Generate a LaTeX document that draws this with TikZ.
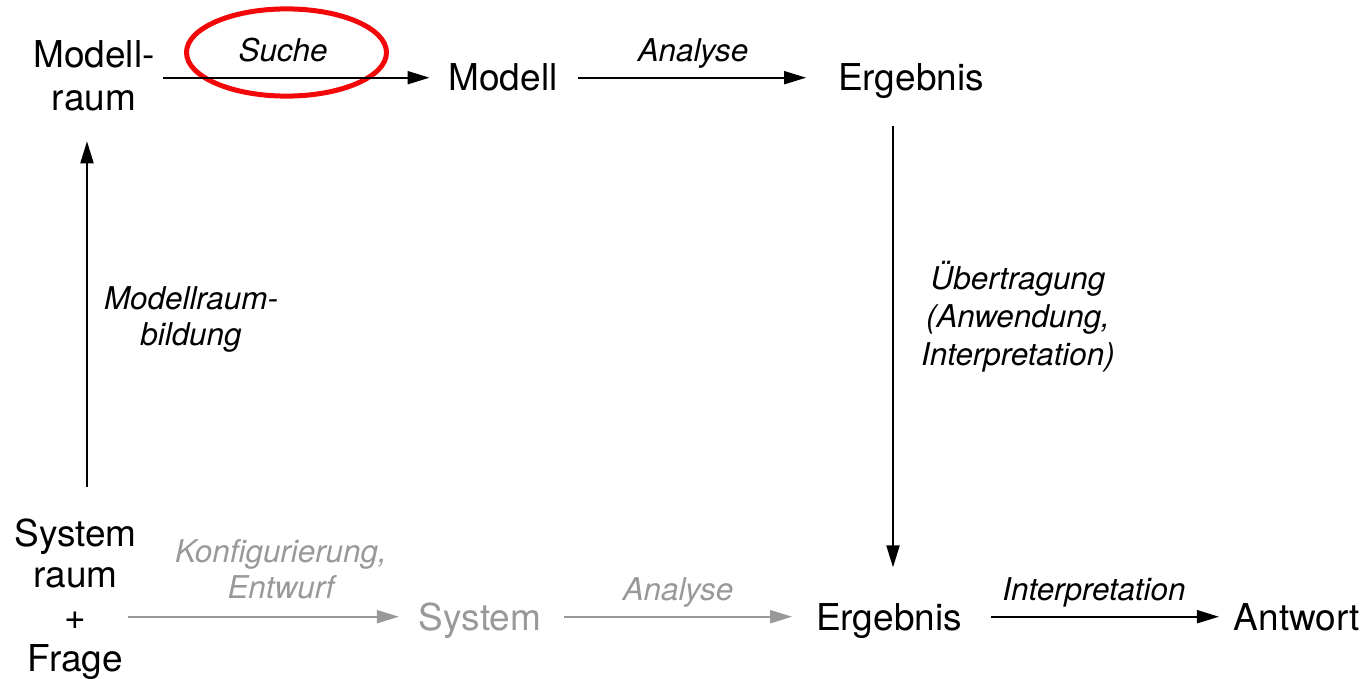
\documentclass[tikz,border=0pt]{standalone}
\usepackage{fontspec}
\setmainfont{TeX Gyre Heros}
\usetikzlibrary{arrows.meta}
\definecolor{soft}{HTML}{999999}
\definecolor{ringred}{HTML}{F20808}
\begin{document}
\begin{tikzpicture}[x=0.5pt,y=-0.5pt,
  every node/.style={inner sep=0pt, outer sep=0pt},
  term/.style={font=\fontsize{18.5}{21.5}\selectfont, text height=13.3pt, text depth=0pt, anchor=base},
  stack/.style={font=\fontsize{18.5}{21.5}\selectfont, align=center},
  lbl/.style={font=\fontsize{15.7}{18}\selectfont\itshape, align=center},
  arr/.style={-{Triangle[length=11pt,width=6.5pt]}, line width=1pt},
  faint/.style={color=soft}]
\useasboundingbox (0,0) rectangle (1372,679);

% model level
\node[stack] (mr) at (94,76) {Modell-\\raum};
\node[term] (m) at (503,91) {Modell};
\node[term] (et) at (911,91) {Ergebnis};

% system level
\node[stack, font=\fontsize{18.5}{20.85}\selectfont] (sr) at (75.5,599) {System\\raum\\+\\Frage};
\node[term, faint] (sys) at (480,630) {System};
\node[term] (eb) at (889,630) {Ergebnis};
\node[term] (aw) at (1297,630) {Antwort};

% edge labels
\node[lbl, anchor=base] (lsuche) at (283,62) {Suche};
\node[lbl, anchor=base] (lana) at (693,62) {Analyse};
\node[lbl] (lbild) at (191,319) {Modellraum-\\bildung};
\node[lbl, font=\fontsize{15.7}{19}\selectfont\itshape] (luebt) at (1018,316.5) {Übertragung\\(Anwendung,\\Interpretation)};
\node[lbl, faint] (lkonf) at (281,569.5) {Konfigurierung,\\Entwurf};
\node[lbl, faint, anchor=base] (lana2) at (678,600) {Analyse};
\node[lbl, anchor=base] (linterp) at (1094,600) {Interpretation};

% highlight around the search step (below the arrow)
\draw[ringred, line width=2.5pt] (lsuche.base) ++(3.5,-9.5) ellipse [x radius=50pt, y radius=21.8pt];

% connectors
\draw[arr, shorten <=4pt, shorten >=9.5pt] (mr.east |- m) -- (m.west);
\draw[arr, shorten <=10.5pt, shorten >=16pt] (m.east) -- (et.west);
\draw[arr, shorten <=17.5pt, shorten >=18pt] ([xshift=2pt]eb.north |- et.south) -- ([xshift=2pt]eb.north);
\draw[arr, shorten <=16pt, shorten >=15pt] ([xshift=5.75pt]sr.north) -- ([xshift=5.75pt]sr.north |- mr.south);
\draw[arr, faint, shorten <=-4.5pt, shorten >=10pt] (sr.east |- sys) -- (sys.west);
\draw[arr, faint, shorten <=11.5pt, shorten >=12pt] (sys.east) -- (eb.west);
\draw[arr, shorten <=14.5pt, shorten >=7.5pt] (eb.east) -- (aw.west);
\end{tikzpicture}
\end{document}
